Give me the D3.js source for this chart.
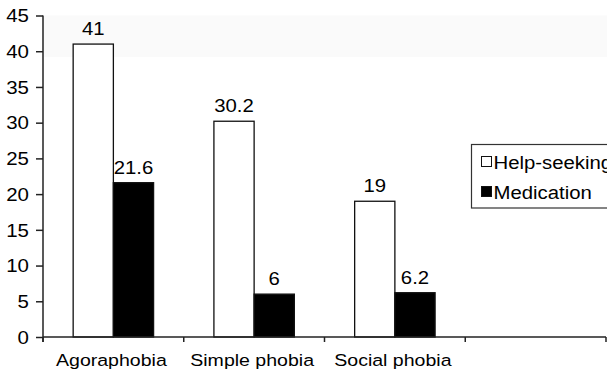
<!DOCTYPE html>
<html>
<head>
<meta charset="utf-8">
<script src="https://cdn.jsdelivr.net/npm/d3@7"></script>
<style>
  html, body { margin: 0; padding: 0; background: #fff; }
  svg { display: block; font-family: "Liberation Sans", Arial, sans-serif; }
</style>
</head>
<body>
<svg id="chart" width="607" height="370"></svg>
<script>
// Categories (the last slot is an empty category on the axis)
const categories = ["Agoraphobia", "Simple phobia", "Social phobia", ""];
const seriesNames = ["Help-seeking", "Medication"];
const helpSeeking = [41, 30.2, 19];
const medication = [21.6, 6, 6.2];
const yTicks = [0, 5, 10, 15, 20, 25, 30, 35, 40, 45];

const fills = { "Help-seeking": "#ffffff", "Medication": "#000000" };
const sx = 1.13; // horizontal text stretch

const svg = d3.select("#chart");
const W = 607;
const plotLeft = 43, plotRight = 606, plotTop = 15.5, plotBottom = 337;

const x0 = d3.scaleBand().domain(categories).range([plotLeft, plotRight]).padding(0);
const x1 = d3.scaleBand().domain(seriesNames).range([0, x0.bandwidth()])
  .paddingInner(0).paddingOuter(0.75);
const y = d3.scaleLinear().domain([0, 45]).range([plotBottom, plotTop]);

// faint band near the top of the plot area
svg.append("rect")
  .attr("x", plotLeft + 1).attr("y", y(45))
  .attr("width", W - plotLeft).attr("height", y(39.2) - y(45))
  .attr("fill", "#fafafa");

const rows = categories.slice(0, 3).map((c, i) => ({
  cat: c,
  vals: [
    { key: "Help-seeking", v: helpSeeking[i] },
    { key: "Medication", v: medication[i] }
  ]
}));

const g = svg.append("g").selectAll("g").data(rows).join("g")
  .attr("transform", d => `translate(${x0(d.cat)},0)`);

g.selectAll("rect").data(d => d.vals).join("rect")
  .attr("x", d => x1(d.key))
  .attr("y", d => y(d.v))
  .attr("width", x1.bandwidth())
  .attr("height", d => y(0) - y(d.v))
  .attr("fill", d => fills[d.key])
  .attr("stroke", "#111")
  .attr("stroke-width", 1.3);

// value labels
const lab = g.selectAll("g.lab").data(d => d.vals).join("g")
  .attr("class", "lab")
  .attr("transform", d => `translate(${x1(d.key) + x1.bandwidth() / 2},${y(d.v) - 9}) scale(${sx},1)`);
lab.append("text")
  .attr("text-anchor", "middle")
  .attr("font-size", 18)
  .attr("fill", "#000")
  .text(d => d.v);

// Y axis
const yAxis = svg.append("g")
  .attr("transform", `translate(${plotLeft},0)`)
  .call(d3.axisLeft(y).tickValues(yTicks).tickSize(7).tickSizeOuter(0).tickPadding(0));
yAxis.select(".domain").attr("stroke", "#222").attr("stroke-width", 1.5)
  .attr("d", `M0,${plotTop}V${plotBottom + 5}`);
yAxis.selectAll(".tick line").attr("stroke", "#222").attr("stroke-width", 1.5);
yAxis.selectAll(".tick text")
  .attr("x", null).attr("dy", "0.36em")
  .attr("transform", `translate(-14,0) scale(${sx + 0.04},1)`)
  .attr("font-size", 17.5).attr("font-family", "Liberation Sans, Arial, sans-serif")
  .attr("fill", "#000");

// X axis: labels at category centres
const xAxis = svg.append("g")
  .attr("transform", `translate(0,${plotBottom})`)
  .call(d3.axisBottom(x0).tickSize(0).tickPadding(0));
xAxis.select(".domain").attr("stroke", "#222").attr("stroke-width", 1.5)
  .attr("d", `M${plotLeft},0H${plotRight}`);
xAxis.selectAll(".tick text")
  .attr("y", null).attr("dy", null)
  .attr("transform", `translate(-2,29) scale(${sx},1)`)
  .attr("font-size", 17.3).attr("font-family", "Liberation Sans, Arial, sans-serif")
  .attr("fill", "#000");

// tick marks between categories
const bounds = categories.map(c => x0(c)).concat([x0(categories[categories.length - 1]) + x0.bandwidth()]);
xAxis.selectAll("line.bound").data(bounds).join("line")
  .attr("class", "bound")
  .attr("x1", d => d).attr("x2", d => d)
  .attr("y1", 0).attr("y2", 5)
  .attr("stroke", "#222").attr("stroke-width", 1.5);

// Legend
const leg = svg.append("g").attr("transform", "translate(471.5,144.5)");
leg.append("rect").attr("width", 150).attr("height", 63.5)
  .attr("fill", "#fff").attr("stroke", "#333").attr("stroke-width", 1.2);
const li = leg.selectAll("g.item").data(seriesNames).join("g")
  .attr("class", "item")
  .attr("transform", (d, i) => `translate(10,${12 + i * 30})`);
li.append("rect").attr("width", 10).attr("height", 10)
  .attr("fill", d => fills[d]).attr("stroke", "#111").attr("stroke-width", 1);
li.append("text")
  .attr("transform", `translate(12,12) scale(${sx},1)`)
  .attr("font-size", 18).attr("fill", "#000")
  .text(d => d);
</script>
</body>
</html>
